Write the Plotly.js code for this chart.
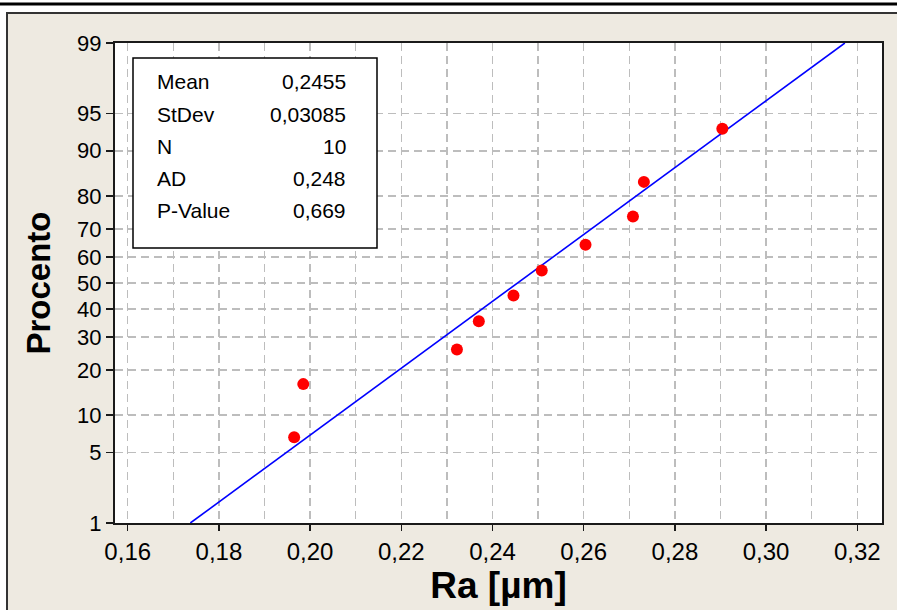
<!DOCTYPE html>
<html>
<head>
<meta charset="utf-8">
<script src="https://cdn.plot.ly/plotly-3.0.1.min.js"></script>
<style>html,body{margin:0;padding:0;background:#fff;}#chart{width:897px;height:610px;}</style>
</head>
<body>
<div id="chart"></div>
<script>
// ---- data ----
const raValues = [0.1965, 0.1985, 0.2322, 0.2370, 0.2446, 0.2508, 0.2604, 0.2708, 0.2732, 0.2904];
const percentValues = [6.73, 16.35, 25.96, 35.58, 45.19, 54.81, 64.42, 74.04, 83.65, 93.27];
const percentTicks = [1, 5, 10, 20, 30, 40, 50, 60, 70, 80, 90, 95, 99];
const percentTickText = ["1", "5", "10", "20", "30", "40", "50", "60", "70", "80", "90", "95", "99"];
const xTickVals = [0.16, 0.18, 0.20, 0.22, 0.24, 0.26, 0.28, 0.30, 0.32];
const xTickText = ["0,16", "0,18", "0,20", "0,22", "0,24", "0,26", "0,28", "0,30", "0,32"];
const statLabels = ["Mean", "StDev", "N", "AD", "P-Value"];
const statValues = ["0,2455", "0,03085", "10", "0,248", "0,669"];
const fitMean = 0.2455;
const fitStDev = 0.03085;
const fitPercents = [1, 99];

// inverse standard normal CDF (Acklam)
function norminv(p) {
  const a=[-3.969683028665376e+01,2.209460984245205e+02,-2.759285104469687e+02,1.383577518672690e+02,-3.066479806614716e+01,2.506628277459239e+00];
  const b=[-5.447609879822406e+01,1.615858368580409e+02,-1.556989798598866e+02,6.680131188771972e+01,-1.328068155288572e+01];
  const c=[-7.784894002430293e-03,-3.223964580411365e-01,-2.400758277161838e+00,-2.549732539343734e+00,4.374664141464968e+00,2.938163982698783e+00];
  const d=[7.784695709041462e-03,3.224671290700398e-01,2.445134137142996e+00,3.754408661907416e+00];
  const pl = 0.02425, ph = 1 - pl;
  let q, r;
  if (p < pl) { q = Math.sqrt(-2*Math.log(p)); return (((((c[0]*q+c[1])*q+c[2])*q+c[3])*q+c[4])*q+c[5])/((((d[0]*q+d[1])*q+d[2])*q+d[3])*q+1); }
  if (p <= ph) { q = p - 0.5; r = q*q; return (((((a[0]*r+a[1])*r+a[2])*r+a[3])*r+a[4])*r+a[5])*q/(((((b[0]*r+b[1])*r+b[2])*r+b[3])*r+b[4])*r+1); }
  q = Math.sqrt(-2*Math.log(1-p)); return -(((((c[0]*q+c[1])*q+c[2])*q+c[3])*q+c[4])*q+c[5])/((((d[0]*q+d[1])*q+d[2])*q+d[3])*q+1);
}
const z = pc => norminv(pc / 100);

// ---- layout geometry (pixels -> paper) ----
const W = 897, H = 610;
const mL = 115, mR = 15, mT = 43, mB = 87;
const pw = W - mL - mR, ph = H - mT - mB;
const PX = px => (px - mL) / pw;
const PY = py => (H - mB - py) / ph;

const fitZ = fitPercents.map(z);
const fitX = fitZ.map(v => fitMean + fitStDev * v);

const traces = [
  { x: fitX, y: fitZ, type: 'scatter', mode: 'lines',
    line: { color: '#0000FF', width: 1.6 }, hoverinfo: 'skip', showlegend: false },
  { x: raValues, y: percentValues.map(z), type: 'scatter', mode: 'markers',
    marker: { color: '#FF0000', size: 12 }, showlegend: false }
];

const gridStyle = { gridcolor: '#BDBDBD', gridwidth: 1.5, griddash: '8px,5px' };
const axisFont = 'Liberation Sans, Arial, sans-serif';
const narrowFont = 'Liberation Sans Narrow, Arial Narrow, Liberation Sans, Arial, sans-serif';

const annotations = [];
statLabels.forEach((lab, i) => {
  const yc = [81.5, 114, 146, 178, 210.5][i];
  annotations.push({ xref: 'paper', yref: 'paper', x: PX(155), y: PY(yc), xanchor: 'left', yanchor: 'middle',
    text: lab, showarrow: false, font: { family: axisFont, size: 21, color: '#000' } });
  annotations.push({ xref: 'paper', yref: 'paper', x: PX(348), y: PY(yc), xanchor: 'right', yanchor: 'middle',
    text: statValues[i], showarrow: false, font: { family: axisFont, size: 21, color: '#000' } });
});

const layout = {
  width: W, height: H,
  margin: { l: mL, r: mR, t: mT, b: mB, pad: 0 },
  paper_bgcolor: '#FFFFFF',
  plot_bgcolor: '#FFFFFF',
  showlegend: false,
  xaxis: {
    range: [0.15721, 0.32542],
    tickvals: xTickVals, ticktext: xTickText,
    ticks: 'outside', ticklen: 6, tickwidth: 1.5, tickcolor: '#1a1a1a',
    showline: true, mirror: true, linecolor: '#1a1a1a', linewidth: 2,
    zeroline: false, showgrid: true, ...gridStyle,
    minor: { tick0: 0.16, dtick: 0.01, showgrid: true, ticks: '', ...gridStyle },
    tickfont: { family: narrowFont, size: 24, color: '#000' },
    title: { text: 'Ra [µm]', standoff: 4, font: { family: narrowFont, size: 37, color: '#000', weight: 'bold' } }
  },
  yaxis: {
    range: [z(1), z(99)],
    tickvals: percentTicks.map(z), ticktext: percentTickText,
    ticks: 'outside', ticklen: 7, tickwidth: 1.5, tickcolor: '#1a1a1a',
    showline: true, mirror: true, linecolor: '#1a1a1a', linewidth: 2,
    zeroline: false, showgrid: true, ...gridStyle,
    tickfont: { family: axisFont, size: 22, color: '#000' },
    title: { text: 'Procento', standoff: 17, font: { family: axisFont, size: 33, color: '#000', weight: 'bold' } }
  },
  shapes: [
    { type: 'rect', layer: 'below', xref: 'paper', yref: 'paper',
      x0: PX(7), x1: PX(902), y0: PY(620), y1: PY(13),
      fillcolor: '#EEEAE1', line: { color: '#333333', width: 2 } },
    { type: 'rect', layer: 'below', xref: 'paper', yref: 'paper',
      x0: 0, x1: 1, y0: 0, y1: 1, fillcolor: '#FFFFFF', line: { width: 0 } },
    { type: 'rect', layer: 'below', xref: 'paper', yref: 'paper',
      x0: PX(-5), x1: PX(905), y0: PY(5.5), y1: PY(2.5), fillcolor: '#000000', line: { width: 0 } },
    { type: 'rect', layer: 'above', xref: 'paper', yref: 'paper',
      x0: PX(133), x1: PX(377), y0: PY(248), y1: PY(58),
      fillcolor: '#FFFFFF', line: { color: '#000000', width: 1.5 } }
  ],
  annotations: annotations
};

Plotly.newPlot('chart', traces, layout, { displayModeBar: false, staticPlot: true });
</script>
</body>
</html>
